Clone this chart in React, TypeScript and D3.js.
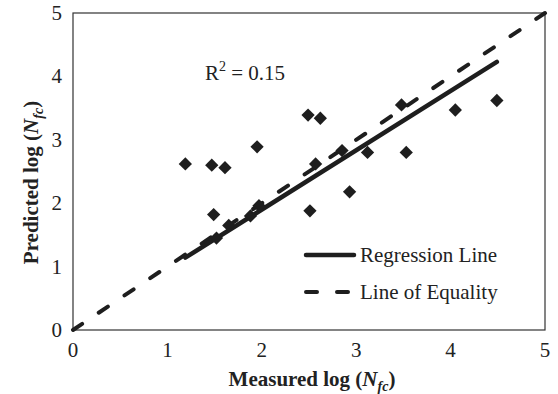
import React from "react";
import * as d3 from "d3";

const measured = [1.19, 1.47, 1.61, 1.95, 2.49, 2.62, 1.49, 2.51, 2.57, 2.85, 3.12, 3.53, 2.93, 3.48, 4.05, 4.49, 1.52, 1.65, 1.88, 1.97];
const predicted = [2.62, 2.6, 2.56, 2.89, 3.39, 3.34, 1.82, 1.88, 2.62, 2.83, 2.8, 2.8, 2.18, 3.55, 3.47, 3.62, 1.45, 1.65, 1.8, 1.96];
const xTicks = [0, 1, 2, 3, 4, 5];
const yTicks = [0, 1, 2, 3, 4, 5];
const regSlope = 0.936;
const regIntercept = 0.027;
const equalityLine = [0, 5];
const rSquaredText = "0.15";
const legendLabels = ["Regression Line", "Line of Equality"];

const W = 558;
const H = 394;
const M = { left: 73, right: 13, top: 13, bottom: 64 };
const FONT = "Liberation Serif";

export default function App() {
  const x = d3.scaleLinear().domain([0, 5]).range([M.left, W - M.right]);
  const y = d3.scaleLinear().domain([0, 5]).range([H - M.bottom, M.top]);
  const line = d3
    .line<[number, number]>()
    .x((d) => x(d[0]))
    .y((d) => y(d[1]));

  const xMin = d3.min(measured)!;
  const xMax = d3.max(measured)!;
  const regPts: [number, number][] = [
    [xMin, regSlope * xMin + regIntercept],
    [xMax, regSlope * xMax + regIntercept],
  ];
  const eqPts: [number, number][] = equalityLine.map((v) => [v, v]);
  const diamond = d3.symbol().type(d3.symbolSquare).size(88)()!;
  const ink = "#1e1e1e";
  const ts = { fontFamily: FONT };

  return (
    <svg
      width={W}
      height={H}
      style={{ position: "absolute", left: 0, top: 0, background: "#fff", fontFamily: FONT }}
    >
      <rect
        x={x(0)}
        y={y(5)}
        width={x(5) - x(0)}
        height={y(0) - y(5)}
        fill="none"
        stroke="#333"
        strokeWidth={1.2}
      />
      {xTicks.map((t) => (
        <text key={"x" + t} style={ts} x={x(t)} y={y(0) + 27} fontSize={21} textAnchor="middle" fill="#222">
          {t}
        </text>
      ))}
      {yTicks.map((t) => (
        <text key={"y" + t} style={ts} x={x(0) - 11} y={y(t) + 7} fontSize={21} textAnchor="end" fill="#222">
          {t}
        </text>
      ))}
      <path
        d={line(eqPts)!}
        fill="none"
        stroke={ink}
        strokeWidth={4}
        strokeDasharray="11,20"
        strokeLinecap="round"
      />
      <path d={line(regPts)!} fill="none" stroke={ink} strokeWidth={4.5} strokeLinecap="round" />
      {measured.map((m, i) => (
        <path
          key={i}
          d={diamond}
          transform={`translate(${x(m)},${y(predicted[i])}) rotate(45)`}
          fill={ink}
        />
      ))}
      <text style={ts} x={205} y={80} fontSize={21} fill="#222">
        R
        <tspan fontSize={14} dy={-9}>
          2
        </tspan>
        <tspan dy={9}>{" = " + rSquaredText}</tspan>
      </text>
      <line x1={306} x2={354} y1={255} y2={255} stroke={ink} strokeWidth={4.5} strokeLinecap="round" />
      <text style={ts} x={360} y={262} fontSize={21} fill="#222">
        {legendLabels[0]}
      </text>
      <line
        x1={306}
        x2={354}
        y1={292}
        y2={292}
        stroke={ink}
        strokeWidth={4}
        strokeDasharray="11,20"
        strokeLinecap="round"
      />
      <text style={ts} x={360} y={299} fontSize={21} fill="#222">
        {legendLabels[1]}
      </text>
      <text style={ts} x={(x(0) + x(5)) / 2 + 3} y={386} fontSize={21} fontWeight="bold" textAnchor="middle" fill="#222">
        Measured log (<tspan fontStyle="italic">N</tspan>
        <tspan fontStyle="italic" fontSize={14} dy={5}>
          fc
        </tspan>
        <tspan dy={-5}>)</tspan>
      </text>
      <text
        style={ts}
        transform={`translate(38,${(y(0) + y(5)) / 2 + 11}) rotate(-90)`}
        fontSize={21}
        fontWeight="bold"
        textAnchor="middle"
        fill="#222"
      >
        Predicted log (<tspan fontStyle="italic">N</tspan>
        <tspan fontStyle="italic" fontSize={14} dy={5}>
          fc
        </tspan>
        <tspan dy={-5}>)</tspan>
      </text>
    </svg>
  );
}
